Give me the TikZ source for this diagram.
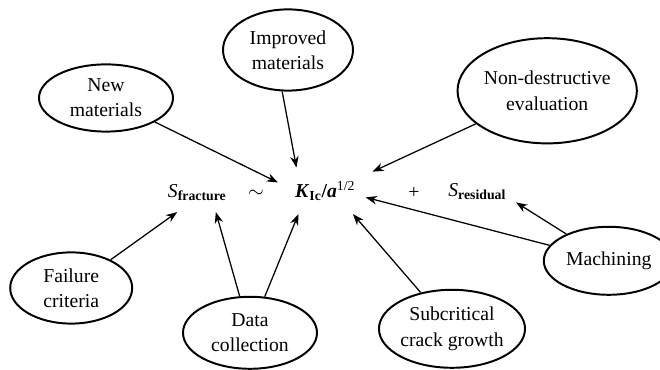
\documentclass[tikz,border=0pt]{standalone}
\usepackage{fontspec}
\setmainfont{Liberation Serif}
\usepackage{tikz}
\usetikzlibrary{shapes.geometric, arrows.meta}
\usepackage{xcolor}
\definecolor{PrintBlack}{HTML}{000000}
\definecolor{PaperWhite}{HTML}{ffffff}
\tikzset{
    % Bubble styles - plain ellipses
    factor/.style={
        ellipse,
        draw=PrintBlack,
        fill=PaperWhite,
        line width=1.4pt,
        inner sep=0pt,
        align=center,
        font=\fontsize{14}{18}\selectfont
    },
    % Equation terms - no border
    term/.style={
        rectangle,
        inner sep=0pt,
        text=PrintBlack,
        font=\fontsize{14}{18}\selectfont
    },
    % Arrow styles - straight lines only
    arrow/.style={
        -{Stealth[length=8pt,width=6pt]},
        line width=0.9pt,
        draw=PrintBlack
    }
}

\begin{document}
\begin{tikzpicture}
    \useasboundingbox (0,0) rectangle (16.5,9.25);

    \node[term, minimum width=1.7cm, minimum height=0.95cm] (sfrac) at (4.93,4.43) {\textit{S}\textsubscript{\bfseries fracture}};
    \node[term] (tilde) at (6.40,4.40) {$\sim$};
    \node[term, minimum width=2.35cm, minimum height=1.15cm] (kic) at (8.13,4.48) {\textbf{\textit{K}}\textsubscript{\bfseries Ic}\textbf{/\textit{a}}\textsuperscript{1/2}};
    \node[term] (plus) at (10.35,4.43) {+};
    \node[term, minimum width=1.93cm, minimum height=0.73cm] (sres) at (11.93,4.45) {\textit{S}\textsubscript{\bfseries residual}};

    \node[factor, minimum width=3.35cm, minimum height=1.68cm] (newmat) at (2.65,6.80) {New\\materials};
    \node[factor, minimum width=3.25cm, minimum height=2.03cm] (impmat) at (7.20,8.00) {Improved\\materials};
    \node[factor, minimum width=4.43cm, minimum height=2.63cm] (nde) at (13.68,6.98) {Non-destructive\\evaluation};
    \node[factor, minimum width=3.05cm, minimum height=1.78cm] (failure) at (1.78,2.05) {Failure\\criteria};
    \node[factor, minimum width=3.35cm, minimum height=1.80cm] (datacol) at (6.25,0.93) {Data\\collection};
    \node[factor, minimum width=3.35cm, minimum height=1.95cm] (subcrit) at (11.30,1.03) {Subcritical\\crack growth};
    \node[factor, minimum width=3.25cm, minimum height=1.70cm] (machining) at (15.22,2.73) {Machining};

    \draw[arrow] (newmat) -- (kic.170);
    \draw[arrow] (impmat.262) -- (kic.141);
    \draw[arrow] (nde) -- (kic.22);
    \draw[arrow, shorten >=-5pt] (machining) -- (kic.350);
    \draw[arrow] (machining) -- (sres.-15);
    \draw[arrow] (subcrit) -- (kic.320);
    \draw[arrow] (datacol) -- (kic.221);
    \draw[arrow] (datacol) -- (sfrac.314);
    \draw[arrow] (failure) -- (sfrac.224);
\end{tikzpicture}
\end{document}
